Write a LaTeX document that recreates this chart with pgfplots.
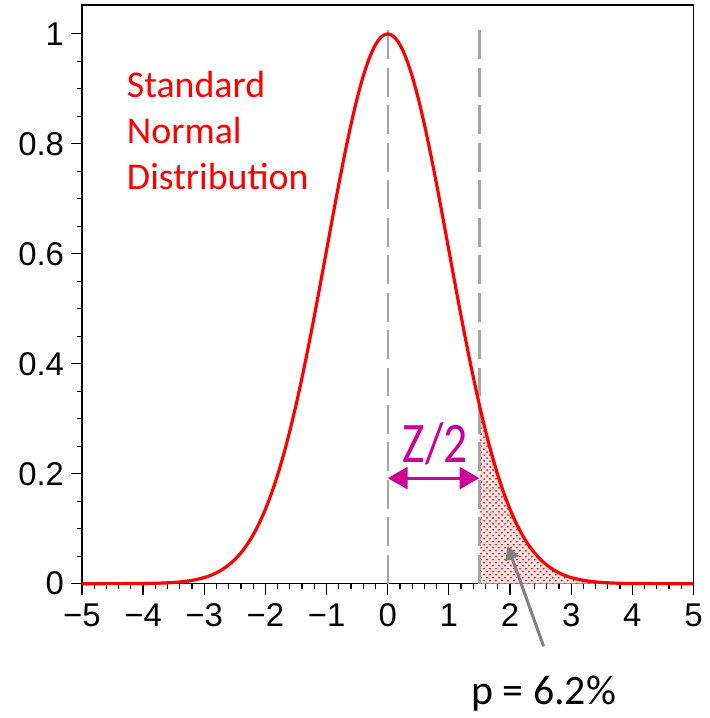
\documentclass[border=0pt]{standalone}
\usepackage{pgfplots}
\pgfplotsset{compat=1.18}
\usepackage{fontspec}
\setmainfont{Liberation Sans}
\newfontfamily\calib{Carlito}
\usetikzlibrary{arrows.meta,patterns}
\definecolor{zmag}{RGB}{204,0,153}
\definecolor{dgray}{RGB}{165,165,165}

% exp(-x^2/2), read at 0.1 steps
\pgfplotstableread{
x y
-5.0 0.00000
-4.5 0.00004
-4.0 0.00034
-3.8 0.00073
-3.6 0.00153
-3.4 0.00309
-3.2 0.00598
-3.0 0.01111
-2.9 0.01492
-2.8 0.01984
-2.7 0.02612
-2.6 0.03405
-2.5 0.04394
-2.4 0.05613
-2.3 0.07100
-2.2 0.08892
-2.1 0.11025
-2.0 0.13534
-1.9 0.16447
-1.8 0.19790
-1.7 0.23575
-1.6 0.27804
-1.5 0.32465
-1.4 0.37531
-1.3 0.42956
-1.2 0.48675
-1.1 0.54607
-1.0 0.60653
-0.9 0.66698
-0.8 0.72615
-0.7 0.78270
-0.6 0.83527
-0.5 0.88250
-0.4 0.92312
-0.3 0.95600
-0.2 0.98020
-0.1 0.99501
0.0 1.00000
0.1 0.99501
0.2 0.98020
0.3 0.95600
0.4 0.92312
0.5 0.88250
0.6 0.83527
0.7 0.78270
0.8 0.72615
0.9 0.66698
1.0 0.60653
1.1 0.54607
1.2 0.48675
1.3 0.42956
1.4 0.37531
1.5 0.32465
1.6 0.27804
1.7 0.23575
1.8 0.19790
1.9 0.16447
2.0 0.13534
2.1 0.11025
2.2 0.08892
2.3 0.07100
2.4 0.05613
2.5 0.04394
2.6 0.03405
2.7 0.02612
2.8 0.01984
2.9 0.01492
3.0 0.01111
3.2 0.00598
3.4 0.00309
3.6 0.00153
3.8 0.00073
4.0 0.00034
4.5 0.00004
5.0 0.00000
}\curve

% tail beyond z = 1.5
\pgfplotstableread{
x y
1.5 0.00000
1.5 0.32465
1.6 0.27804
1.7 0.23575
1.8 0.19790
1.9 0.16447
2.0 0.13534
2.1 0.11025
2.2 0.08892
2.3 0.07100
2.4 0.05613
2.5 0.04394
2.6 0.03405
2.7 0.02612
2.8 0.01984
2.9 0.01492
3.0 0.01111
3.2 0.00598
3.4 0.00309
3.6 0.00153
3.8 0.00073
4.0 0.00034
4.5 0.00004
5.0 0.00000
}\tail

\begin{document}
\begin{tikzpicture}
\begin{axis}[
    scale only axis,
    width=307pt, height=290.5pt,
    xmin=-5, xmax=5, ymin=0, ymax=1.0525,
    clip=false,
    axis line style={black, line width=0.6pt},
    tick align=outside,
    xtick pos=bottom, ytick pos=left,
    xtick={-5,-4,...,5},
    xticklabels={−5,−4,−3,−2,−1,0,1,2,3,4,5},
    minor x tick num=4,
    ytick={0,0.2,0.4,0.6,0.8,1},
    yticklabels={0,0.2,0.4,0.6,0.8,1},
    minor y tick num=3,
    major tick length=5.5pt,
    minor tick length=2.5pt,
    tick style={black, line width=0.6pt},
    ticklabel style={font=\fontsize{16.5}{19}\selectfont},
    /pgf/number format/assume math mode=true,
    xticklabel style={yshift=-1pt},
]
\path (axis cs:-6.34,1.0616) rectangle (axis cs:5.147,-0.239);

\addplot[draw=none, fill=red!10] table[x=x,y=y] {\tail} -- cycle;
\addplot[draw=none, pattern=crosshatch dots, pattern color=red] table[x=x,y=y] {\tail} -- cycle;

\addplot[dgray, line width=1.1pt, dash pattern=on 14.5pt off 4.3pt] coordinates {(0,0) (0,1.01)};
\addplot[dgray, line width=1.4pt, dash pattern=on 14.5pt off 4.3pt] coordinates {(1.5,0) (1.5,1.01)};

\addplot[red, line width=1.6pt, smooth] table[x=x,y=y] {\curve};

\draw[zmag, line width=1.6pt, {Triangle[length=10pt,width=11pt]}-{Triangle[length=10pt,width=11pt]}]
    (axis cs:0,0.192) -- (axis cs:1.5,0.192);
\node[zmag, font=\calib\fontsize{24}{28}\selectfont, anchor=base, yscale=1.2] at (axis cs:0.78,0.221) {Z/2};

\node[red, font=\calib\fontsize{19}{23}\selectfont, align=left, anchor=north west, inner sep=0pt]
    at (axis cs:-4.27,0.933) {Standard\\Normal\\Distribution};

\draw[gray, line width=1.5pt, -{Triangle[length=7pt,width=7pt]}]
    (axis cs:2.55,-0.114) -- (axis cs:1.96,0.069);
\node[black, font=\calib\fontsize{21}{25}\selectfont, anchor=base] at (axis cs:2.55,-0.220) {p = 6.2\%};
\end{axis}
\end{tikzpicture}
\end{document}
